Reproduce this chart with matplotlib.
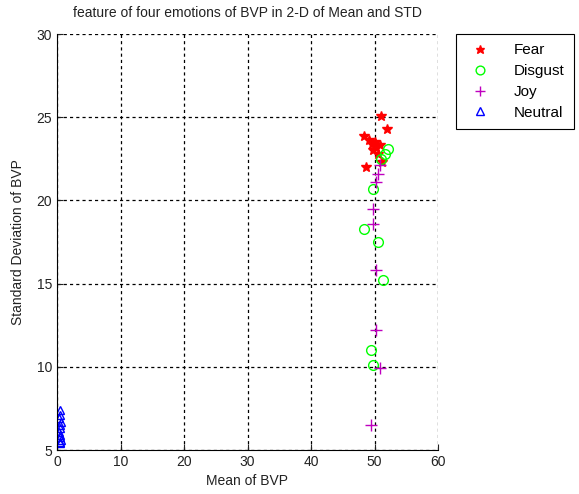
import numpy as np
import matplotlib.pyplot as plt

plt.rcParams['font.family'] = ['Liberation Sans', 'DejaVu Sans']
plt.rcParams['font.size'] = 10

fear_x = [51.0, 51.9, 48.3, 49.2, 49.6, 50.0, 50.3, 49.8, 50.6, 48.6, 51.2, 50.8]
fear_y = [25.1, 24.3, 23.9, 23.6, 23.4, 23.5, 23.2, 23.0, 22.8, 22.0, 22.3, 23.3]

disgust_x = [52.2, 51.6, 51.1, 49.7, 48.4, 50.5, 51.3, 49.5, 49.7]
disgust_y = [23.1, 22.8, 22.5, 20.7, 18.3, 17.5, 15.2, 11.0, 10.1]

joy_x = [50.8, 50.5, 50.3, 49.7, 49.7, 50.3, 50.3, 50.8, 49.5]
joy_y = [22.1, 21.6, 21.1, 19.5, 18.6, 15.8, 12.2, 9.9, 6.5]

neutral_x = [0.4, 0.5, 0.3, 0.6, 0.4, 0.5, 0.3, 0.5, 0.4, 0.6, 0.4, 0.5]
neutral_y = [7.4, 7.1, 6.9, 6.7, 6.5, 6.3, 6.1, 5.9, 5.8, 5.6, 5.5, 5.4]

fig = plt.figure(figsize=(5.79, 4.94), dpi=100)
ax = fig.add_axes([57 / 579, 1 - 450 / 494, 381 / 579, 416 / 494])

ax.plot(fear_x, fear_y, '*', color='r', markersize=7, label='Fear')
ax.plot(disgust_x, disgust_y, 'o', mfc='none', mec=(0, 1, 0), markersize=7, label='Disgust')
ax.plot(joy_x, joy_y, '+', color='m', markersize=8, label='Joy')
ax.plot(neutral_x, neutral_y, '^', mfc='none', mec='b', markersize=6, label='Neutral')

ax.set_xlim(0, 60)
ax.set_ylim(5, 30)
ax.set_xticks(np.arange(0, 61, 10))
ax.set_yticks(np.arange(5, 31, 5))
ax.tick_params(direction='in', length=4, colors='#222222')
ax.grid(True, color='k', linestyle=(0, (2.5, 2.5)), linewidth=0.9)
ax.spines['top'].set_visible(False)
ax.spines['right'].set_visible(False)
ax.set_axisbelow(True)

ax.set_xlabel('Mean of BVP', labelpad=4, color='#222222')
ax.set_ylabel('Standard Deviation of BVP', labelpad=8, color='#222222')
ax.set_title('feature of four emotions of BVP in 2-D of Mean and STD', fontsize=10,
             pad=12, color='#222222')

leg = ax.legend(loc='upper left', bbox_to_anchor=(1.047, 1.0), borderaxespad=0,
                fancybox=False, edgecolor='k', framealpha=1, borderpad=0.6,
                labelspacing=0.45, handletextpad=1.2, fontsize=11, markerscale=0.9)
leg.get_frame().set_linewidth(0.8)

fig.savefig('out.png', dpi=100)
